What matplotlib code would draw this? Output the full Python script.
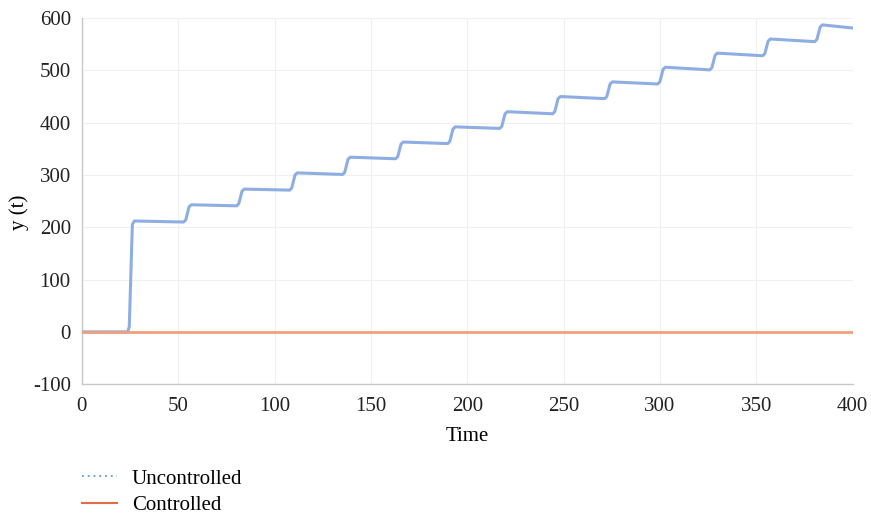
import matplotlib
matplotlib.use("Agg")
import matplotlib.pyplot as plt
from matplotlib.lines import Line2D

# Breakpoints of the uncontrolled response
t_unc = [0, 23.8, 24.6, 26.2, 27.2, 52.8, 53.9, 55.6, 56.8, 80.3, 81.4, 83.1,
         84.3, 107.8, 108.9, 110.6, 111.8, 135.3, 136.4, 138.1, 139.3, 162.8,
         163.9, 165.6, 166.8, 189.8, 190.9, 192.6, 193.8, 216.8, 217.9, 219.6,
         220.8, 244.3, 245.4, 247.1, 248.3, 271.3, 272.4, 274.1, 275.3, 298.8,
         299.9, 301.6, 302.8, 325.8, 326.9, 328.6, 329.8, 353.3, 354.4, 356.1,
         357.3, 380.3, 381.4, 383.1, 384.3, 400]
y_unc = [0, 0, 10, 205, 212, 210, 214, 239, 243, 241, 245, 269, 273, 271,
         275, 300, 304, 301, 305, 330, 334, 331, 335, 359, 363, 360, 364, 388,
         392, 389, 393, 417, 421, 417, 421, 446, 450, 446, 450, 474, 478, 474,
         478, 502, 506, 501, 505, 529, 533, 528, 532, 556, 560, 555, 559, 583,
         587, 581]

t_ctl = [0, 400]
y_ctl = [0, 0]

x_ticks = [0, 50, 100, 150, 200, 250, 300, 350, 400]
y_ticks = [-100, 0, 100, 200, 300, 400, 500, 600]

plt.rcParams['font.family'] = ['Liberation Serif', 'DejaVu Serif']

fig = plt.figure(figsize=(8.71, 5.17), dpi=100)
ax = fig.add_axes([0.094, 0.257, 0.885, 0.708])

ax.plot(t_unc, y_unc, color='#8eaee3', lw=2.2, solid_joinstyle='round',
        solid_capstyle='round', zorder=3)
ax.plot(t_ctl, y_ctl, color='#f2a07c', lw=2.0, zorder=4)

ax.set_xlim(0, 400)
ax.set_ylim(-100, 600)
ax.set_xticks(x_ticks)
ax.set_yticks(y_ticks)
ax.set_yticklabels([str(v) for v in y_ticks])
ax.grid(True, color='#f0f0f0', lw=0.8)
ax.set_axisbelow(True)
for s in ['top', 'right']:
    ax.spines[s].set_visible(False)
for s in ['left', 'bottom']:
    ax.spines[s].set_color('#c8c8c8')
    ax.spines[s].set_linewidth(1.0)
ax.tick_params(length=0, labelsize=15, colors='#222222')
ax.tick_params(axis='x', pad=9)
ax.tick_params(axis='y', pad=8)
ax.set_xlabel('Time', fontsize=15, labelpad=8)
ax.set_ylabel('y (t)', fontsize=15)
ax.yaxis.set_label_coords(-0.068, 0.47)

handles = [Line2D([], [], color='#5b9bd5', lw=1.3, ls=(0, (1, 2.2))),
           Line2D([], [], color='#e0703f', lw=1.5)]
fig.legend(handles, ['Uncontrolled', 'Controlled'], loc='upper left',
           bbox_to_anchor=(0.0845, 0.109), frameon=False, fontsize=15,
           handlelength=1.7, handletextpad=0.7, labelspacing=0.32,
           borderaxespad=0)

fig.savefig('out.png', dpi=100)
